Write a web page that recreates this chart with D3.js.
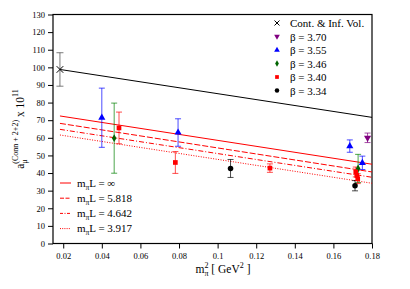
<!DOCTYPE html>
<html lang="en">
<head>
<meta charset="UTF-8">
<script src="https://cdn.jsdelivr.net/npm/d3@7/dist/d3.min.js"></script>
<style>
  * { margin: 0; padding: 0; }
  body { background: #fff; }
  text { font-family: "Liberation Serif", "DejaVu Serif", serif; }
</style>
</head>
<body>
<svg width="410" height="289"></svg>
<script>
// data
var xTicks = [0.02, 0.04, 0.06, 0.08, 0.1, 0.12, 0.14, 0.16, 0.18];
var yTicks = [0, 10, 20, 30, 40, 50, 60, 70, 80, 90, 100, 110, 120, 130];

var contX = [0.0183], contY = [98.8], contE = [9.5];
var b370X = [0.1777], b370Y = [60.0], b370E = [2.7];
var b355X = [0.0400, 0.0795, 0.1685, 0.1750], b355Y = [71.4, 63.0, 55.3, 45.8], b355E = [16.8, 7.8, 3.5, 3.8];
var b346X = [0.0464, 0.1728], b346Y = [59.8, 42.6], b346E = [19.9, 8.0];
var b340X = [0.0489, 0.0781, 0.1271, 0.1716, 0.1721, 0.1726], b340Y = [65.6, 46.0, 42.8, 40.6, 38.6, 36.8], b340E = [9.0, 6.2, 2.4, 2.8, 2.8, 2.8];
var b334X = [0.1067, 0.1712], b334Y = [42.6, 32.8], b334E = [5.1, 2.9];

var fitX = [0.0183, 0.18];
var contLine = [98.8, 71.6];
var fitInf = [72.4, 45.0];
var fit5818 = [68.2, 40.6];
var fit4642 = [64.8, 37.6];
var fit3917 = [61.6, 34.2];

var svg = d3.select("svg");
var marge = { left: 53, right: 372, top: 14.5, bottom: 243.5 };

var x = d3.scaleLinear().domain([0.0147, 0.18]).range([marge.left, marge.right]);
var y = d3.scaleLinear().domain([0, 130]).range([marge.bottom, marge.top]);

// axes
var xAxis = d3.axisBottom(x).tickValues(xTicks).tickSize(5).tickPadding(4)
  .tickFormat(function (d) { return d3.format("")(+d.toFixed(2)); });
var gx = svg.append("g").attr("transform", "translate(0," + marge.bottom + ")").call(xAxis);
var yAxis = d3.axisLeft(y).tickValues(yTicks).tickSize(5).tickPadding(3);
var gy = svg.append("g").attr("transform", "translate(" + marge.left + ",0)").call(yAxis);
[gx, gy].forEach(function (g) {
  g.select(".domain").remove();
  g.selectAll("text").attr("font-family", "Liberation Serif").attr("font-size", 8.5).attr("fill", "#000");
  g.selectAll("line").attr("stroke", "#000");
});

// frame
svg.append("rect")
  .attr("x", marge.left).attr("y", marge.top)
  .attr("width", marge.right - marge.left).attr("height", marge.bottom - marge.top)
  .attr("fill", "none").attr("stroke", "#000").attr("stroke-width", 1.2);

// fit lines
var line = d3.line().x(function (d) { return x(d[0]); }).y(function (d) { return y(d[1]); });
function fitLine(vals, color, dash) {
  svg.append("path")
    .datum(d3.zip(fitX, vals))
    .attr("d", line)
    .attr("fill", "none")
    .attr("stroke", color)
    .attr("stroke-width", 1)
    .attr("stroke-dasharray", dash);
}
fitLine(contLine, "#000", null);
fitLine(fitInf, "#ff0000", null);
fitLine(fit5818, "#ff0000", "6,2");
fitLine(fit4642, "#ff0000", "5,2,1,2");
fitLine(fit3917, "#ff0000", "1,1.5");

// error bars
function errorBars(xs, ys, es, color, cap) {
  var data = d3.zip(xs, ys, es);
  var g = svg.append("g").attr("stroke", color).attr("stroke-width", 1).attr("stroke-opacity", 0.7);
  g.selectAll(".v").data(data).enter().append("line")
    .attr("x1", function (d) { return x(d[0]); }).attr("x2", function (d) { return x(d[0]); })
    .attr("y1", function (d) { return y(d[1] - d[2]); }).attr("y2", function (d) { return y(d[1] + d[2]); });
  [1, -1].forEach(function (s) {
    g.selectAll(".c" + s).data(data).enter().append("line")
      .attr("x1", function (d) { return x(d[0]) - cap; }).attr("x2", function (d) { return x(d[0]) + cap; })
      .attr("y1", function (d) { return y(d[1] + s * d[2]); }).attr("y2", function (d) { return y(d[1] + s * d[2]); });
  });
}
errorBars(contX, contY, contE, "#444", 3.5);
errorBars(b370X, b370Y, b370E, "#800080", 3);
errorBars(b355X, b355Y, b355E, "#0000ff", 3);
errorBars(b346X, b346Y, b346E, "#008000", 3);
errorBars(b340X, b340Y, b340E, "#ff0000", 3);
errorBars(b334X, b334Y, b334E, "#000", 3);

// markers
var symTri = d3.symbol().type(d3.symbolTriangle).size(22);
var symSq = d3.symbol().type(d3.symbolSquare).size(22);
var symDia = d3.symbol().type(d3.symbolDiamond).size(18);
var symCir = d3.symbol().type(d3.symbolCircle).size(24);
var symX = d3.symbol().type(d3.symbolTimes).size(30);

function markers(xs, ys, sym, color, rot, stroke) {
  svg.append("g").selectAll("path").data(d3.zip(xs, ys)).enter().append("path")
    .attr("d", sym)
    .attr("transform", function (d) { return "translate(" + x(d[0]) + "," + y(d[1]) + ") rotate(" + rot + ")"; })
    .attr("fill", stroke ? "none" : color)
    .attr("stroke", stroke ? color : "none")
    .attr("stroke-width", 1);
}
markers(contX, contY, d3.symbol().type(d3.symbolX || d3.symbolCross).size(30), "#000", 0, true);
markers(b370X, b370Y, symTri, "#800080", 180);
markers(b355X, b355Y, symTri, "#0000ff", 0);
markers(b346X, b346Y, symDia, "#006400", 0);
markers(b340X, b340Y, symSq, "#ff0000", 0);
markers(b334X, b334Y, symCir, "#000", 0);

// right legend
var legItems = [
  { t: "Cont. & Inf. Vol.", c: "#000", s: "x" },
  { t: "\u03b2 = 3.70", c: "#800080", s: "tri", r: 180 },
  { t: "\u03b2 = 3.55", c: "#0000ff", s: "tri", r: 0 },
  { t: "\u03b2 = 3.46", c: "#006400", s: "dia" },
  { t: "\u03b2 = 3.40", c: "#ff0000", s: "sq" },
  { t: "\u03b2 = 3.34", c: "#000", s: "cir" }
];
var lg = svg.append("g").attr("transform", "translate(277,23)");
legItems.forEach(function (d, i) {
  var row = lg.append("g").attr("transform", "translate(0," + (i * 13.5) + ")");
  if (d.s === "x") {
    row.append("path").attr("d", "M-2.5,-2.5L2.5,2.5M-2.5,2.5L2.5,-2.5").attr("stroke", "#000").attr("stroke-width", 1);
  } else {
    var sym = { tri: d3.symbol().type(d3.symbolTriangle).size(14), dia: d3.symbol().type(d3.symbolDiamond).size(12),
      sq: d3.symbol().type(d3.symbolSquare).size(14), cir: d3.symbol().type(d3.symbolCircle).size(16) }[d.s];
    row.append("path").attr("d", sym).attr("fill", d.c).attr("transform", "rotate(" + (d.r || 0) + ")");
  }
  row.append("text").attr("x", 13).attr("y", 4).attr("font-size", 11).text(d.t);
});

// bottom-left legend
var fitLeg = [
  { t: "\u221e", dash: null },
  { t: "5.818", dash: "4,1.5" },
  { t: "4.642", dash: "3,1.5,1,1.5" },
  { t: "3.917", dash: "1,1.2" }
];
var lg2 = svg.append("g").attr("transform", "translate(60,183)");
fitLeg.forEach(function (d, i) {
  var row = lg2.append("g").attr("transform", "translate(0," + (i * 15.2) + ")");
  row.append("line").attr("x1", 0).attr("x2", 11).attr("y1", 0).attr("y2", 0)
    .attr("stroke", "#ff0000").attr("stroke-width", 1).attr("stroke-dasharray", d.dash);
  var t = row.append("text").attr("x", 17).attr("y", 3.5).attr("font-size", 11);
  t.append("tspan").text("m");
  t.append("tspan").attr("font-size", 7.5).attr("dy", 3).text("\u03c0");
  t.append("tspan").attr("dy", -3).text("L = " + d.t);
});

// x label
var xl = svg.append("text").attr("x", 223).attr("y", 273).attr("text-anchor", "middle").attr("font-size", 11.5);
xl.append("tspan").text("m");
var xpi = xl.append("tspan").attr("font-size", 8).attr("dy", 3).text("\u03c0");
var x2 = xl.append("tspan").attr("font-size", 8).attr("dy", -8).text("2");
xl.append("tspan").attr("dy", 5).text(" [ GeV");
xl.append("tspan").attr("font-size", 8).attr("dy", -5).text("2");
xl.append("tspan").attr("dy", 5).text(" ]");
x2.attr("dx", -xpi.node().getComputedTextLength());

// y label
var yl = svg.append("text").attr("transform", "translate(24,129) rotate(-90)")
  .attr("text-anchor", "middle").attr("font-size", 11.5);
yl.append("tspan").text("a");
var ymu = yl.append("tspan").attr("font-size", 8).attr("dy", 3).text("\u03bc");
var ysup = yl.append("tspan").attr("font-size", 8).attr("dy", -9).text("(Conn + 2+2)");
yl.append("tspan").attr("dy", 6).text(" x 10");
yl.append("tspan").attr("font-size", 8).attr("dy", -6).text("11");
ysup.attr("dx", -ymu.node().getComputedTextLength());
</script>
</body>
</html>
